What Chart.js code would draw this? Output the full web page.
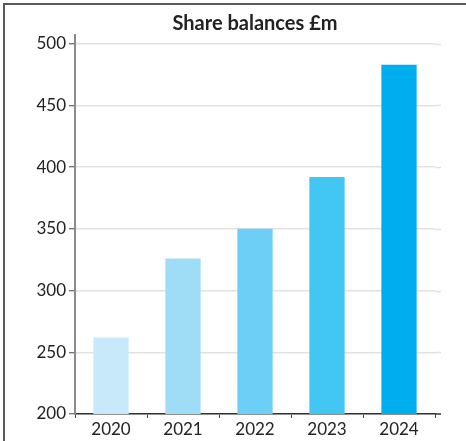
<!DOCTYPE html>
<html>
<head>
<meta charset="utf-8">
<script src="https://cdn.jsdelivr.net/npm/chart.js@4"></script>
<style>
    html, body { margin: 0; padding: 0; background: #fff; }
    #wrap { position: relative; width: 466px; height: 441px; overflow: hidden; }
    #frame {
        position: absolute; left: 3px; top: 3px; width: 600px; height: 600px;
        border-left: 2px solid #5a5a5a; border-top: 2px solid #5a5a5a;
        pointer-events: none;
    }
    canvas { position: absolute; left: 0; top: 0; }
</style>
</head>
<body>
<div id="wrap">
    <canvas id="shareChart" width="466" height="441"></canvas>
    <div id="frame"></div>
</div>
<script>
var years = ['2020', '2021', '2022', '2023', '2024'];
var balances = [262, 326, 350, 392, 483];
var barColours = ['#c7e9f9', '#9fdcf6', '#6dcff5', '#42c6f3', '#00adee'];
var yTicks = [200, 250, 300, 350, 400, 450, 500];

var FONT = 'Lato, "Open Sans", sans-serif';
var GRID = '#e2e2e2';
var AXIS_X = '#333333';

// grid lines and the base line run a few px past the last category
var extendRight = {
    id: 'extendRight',
    afterDraw: function (chart) {
        var ctx = chart.ctx;
        var area = chart.chartArea;
        var y = chart.scales.y;
        ctx.save();
        ctx.lineWidth = 1.5;
        ctx.strokeStyle = GRID;
        yTicks.forEach(function (v) {
            if (v === 200) return;
            var py = Math.round(y.getPixelForValue(v)) + 0.5;
            ctx.beginPath();
            ctx.moveTo(area.right, py);
            ctx.lineTo(area.right + 6, py);
            ctx.stroke();
        });
        ctx.strokeStyle = AXIS_X;
        ctx.beginPath();
        ctx.moveTo(area.right, area.bottom);
        ctx.lineTo(area.right + 6, area.bottom);
        ctx.stroke();
        ctx.restore();
    }
};

new Chart(document.getElementById('shareChart'), {
    type: 'bar',
    data: {
        labels: years,
        datasets: [{
            data: balances,
            backgroundColor: barColours,
            categoryPercentage: 1,
            barPercentage: 0.49
        }]
    },
    options: {
        responsive: false,
        animation: false,
        layout: { padding: { left: 0, right: 31, top: 0, bottom: 0 } },
        plugins: {
            legend: { display: false },
            tooltip: { enabled: false },
            title: {
                display: true,
                text: 'Share balances £m',
                fullSize: false,
                color: '#222',
                font: { family: FONT, size: 20, weight: 'bold', lineHeight: 1.1 },
                padding: { top: 13, bottom: 0 }
            }
        },
        scales: {
            x: {
                afterFit: function (scale) { scale.height = 27; },
                border: { color: AXIS_X, width: 1.5 },
                grid: {
                    drawOnChartArea: false,
                    tickLength: 4,
                    tickColor: '#444',
                    tickWidth: 1
                },
                ticks: {
                    color: '#222',
                    padding: 1,
                    font: { family: FONT, size: 17 }
                }
            },
            y: {
                min: 200,
                max: 507,
                afterFit: function (scale) { scale.width = 75; },
                afterBuildTicks: function (scale) {
                    scale.ticks = yTicks.map(function (v) { return { value: v }; });
                },
                border: { color: '#8a8a8a', width: 2 },
                grid: {
                    color: GRID,
                    lineWidth: 1.5,
                    tickLength: 6,
                    tickColor: '#444',
                    tickWidth: 1
                },
                ticks: {
                    color: '#222',
                    padding: 3,
                    font: { family: FONT, size: 17 }
                }
            }
        }
    },
    plugins: [extendRight]
});
</script>
</body>
</html>
